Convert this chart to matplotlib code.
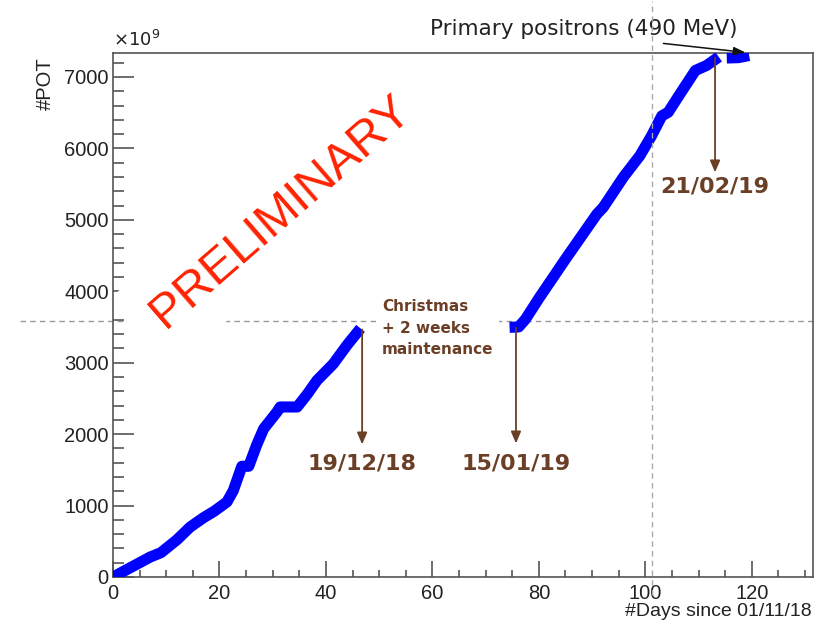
import numpy as np
import matplotlib.pyplot as plt
from matplotlib.ticker import MultipleLocator

# Integrated protons-on-target vs. days since 01/11/18 (units of 1e9)
dias_run1 = [0, 3.5, 7, 9, 12, 14.5, 17, 19, 21.4, 22.6, 24.2, 25.5, 27, 28.3,
             30.8, 31.4, 34.6, 36.5, 38.3, 41.4, 44, 46.5]
pot_run1 = [0, 140, 280, 340, 520, 700, 830, 920, 1050, 1210, 1550, 1550, 1850,
            2075, 2310, 2380, 2380, 2560, 2750, 2985, 3250, 3480]

dias_run2 = [74.5, 76.2, 77.5, 80, 85, 90.9, 92.1, 95.9, 99, 101.2, 103.1, 104.3,
             106.5, 109.4, 111.5, 113.8]
pot_run2 = [3495, 3500, 3610, 3900, 4450, 5080, 5175, 5600, 5900, 6180, 6455, 6505,
            6760, 7090, 7160, 7280]

dias_run3 = [115.3, 117.5, 119.5]
pot_run3 = [7265, 7270, 7300]

# fechas marcadas con flecha: (día, inicio, fin, texto, posición del texto)
flechas = [(46.8, 3464, 1856, '19/12/18', 1590),
           (75.7, 3490, 1870, '15/01/19', 1590),
           (113.1, 7270, 5664, '21/02/19', 5463)]

nivel_pausa = 3580   # línea horizontal de referencia
dia_ref = 101.2      # línea vertical de referencia

marron = '#6b3f26'
gris_eje = '#555555'
texto = '#222222'

plt.rcParams['font.family'] = ['Liberation Sans', 'DejaVu Sans']

fig = plt.figure(figsize=(8.15, 6.23), dpi=100)
ax = fig.add_axes([113 / 815, 46 / 623, 700 / 815, 524 / 623])
ax.set_xlim(0, 131.5)
ax.set_ylim(0, 7335)

for s in ax.spines.values():
    s.set_color(gris_eje)
    s.set_linewidth(1.2)

ax.xaxis.set_major_locator(MultipleLocator(20))
ax.xaxis.set_minor_locator(MultipleLocator(5))
ax.yaxis.set_major_locator(MultipleLocator(1000))
ax.yaxis.set_minor_locator(MultipleLocator(200))
ax.tick_params(axis='both', which='both', direction='in', color=gris_eje,
               width=1.2, labelsize=14.5, labelcolor=texto)
ax.tick_params(axis='x', which='major', length=11.3, pad=5)
ax.tick_params(axis='x', which='minor', length=5.3)
ax.tick_params(axis='y', which='major', length=15.1, pad=3)
ax.tick_params(axis='y', which='minor', length=7.9)

# líneas de referencia discontinuas
ax.plot([-17.4, 131.5], [nivel_pausa, nivel_pausa], ls=(0, (4, 3)), lw=1,
        color='#999999', clip_on=False, zorder=1)
ax.plot([dia_ref, dia_ref], [-255, 8066], ls=(0, (4, 3)), lw=1,
        color='#aaaaaa', clip_on=False, zorder=4)

# curva acumulada
for d, v in [(dias_run1, pot_run1), (dias_run2, pot_run2), (dias_run3, pot_run3)]:
    ax.plot(d, v, color='#0000ff', lw=8, solid_capstyle='butt',
            solid_joinstyle='round', zorder=3)

for x, y0, y1, etiqueta, ytxt in flechas:
    ax.annotate('', xy=(x, y1), xytext=(x, y0),
                arrowprops=dict(arrowstyle='-|>,head_length=0.7,head_width=0.3',
                                color=marron, lw=1.3, shrinkA=0, shrinkB=0),
                zorder=5)
    ax.text(x, ytxt, etiqueta, ha='center', va='center', fontsize=16,
            fontweight='bold', color=marron, family='DejaVu Sans')

ax.text(50.5, 3483, 'Christmas\n+ 2 weeks\nmaintenance', ha='left', va='center',
        fontsize=11, fontweight='bold', color=marron, family='DejaVu Sans',
        linespacing=1.55, zorder=2,
        bbox=dict(boxstyle='square,pad=0.35', fc='white', ec='none'))

ax.text(88.4, 7673, 'Primary positrons (490 MeV)', ha='center', va='center',
        fontsize=15.5, color=texto, family='DejaVu Sans')
ax.annotate('', xy=(118.8, 7343), xytext=(103.4, 7469), annotation_clip=False,
            arrowprops=dict(arrowstyle='-|>,head_length=0.7,head_width=0.25',
                            color='#111111', lw=1.1, shrinkA=0, shrinkB=0),
            zorder=6)

ax.text(31.6, 5115, 'PRELIMINARY', rotation=41, rotation_mode='anchor',
        ha='center', va='center', fontsize=35, color='#ff2200', zorder=2,
        bbox=dict(boxstyle='square,pad=0.5', fc='white', ec='none'))

ax.text(0, 1.005, r'$\times10^{9}$', transform=ax.transAxes, ha='left',
        va='bottom', fontsize=13, color=texto)
fig.text(45 / 815, 1 - 57 / 623, '#POT', rotation=90, ha='center', va='top',
         fontsize=14.5, color=texto)
fig.text(812 / 815, 1 - 611 / 623, '#Days since 01/11/18', ha='right',
         va='center', fontsize=14, color=texto)

fig.savefig('out.png', dpi=100)
